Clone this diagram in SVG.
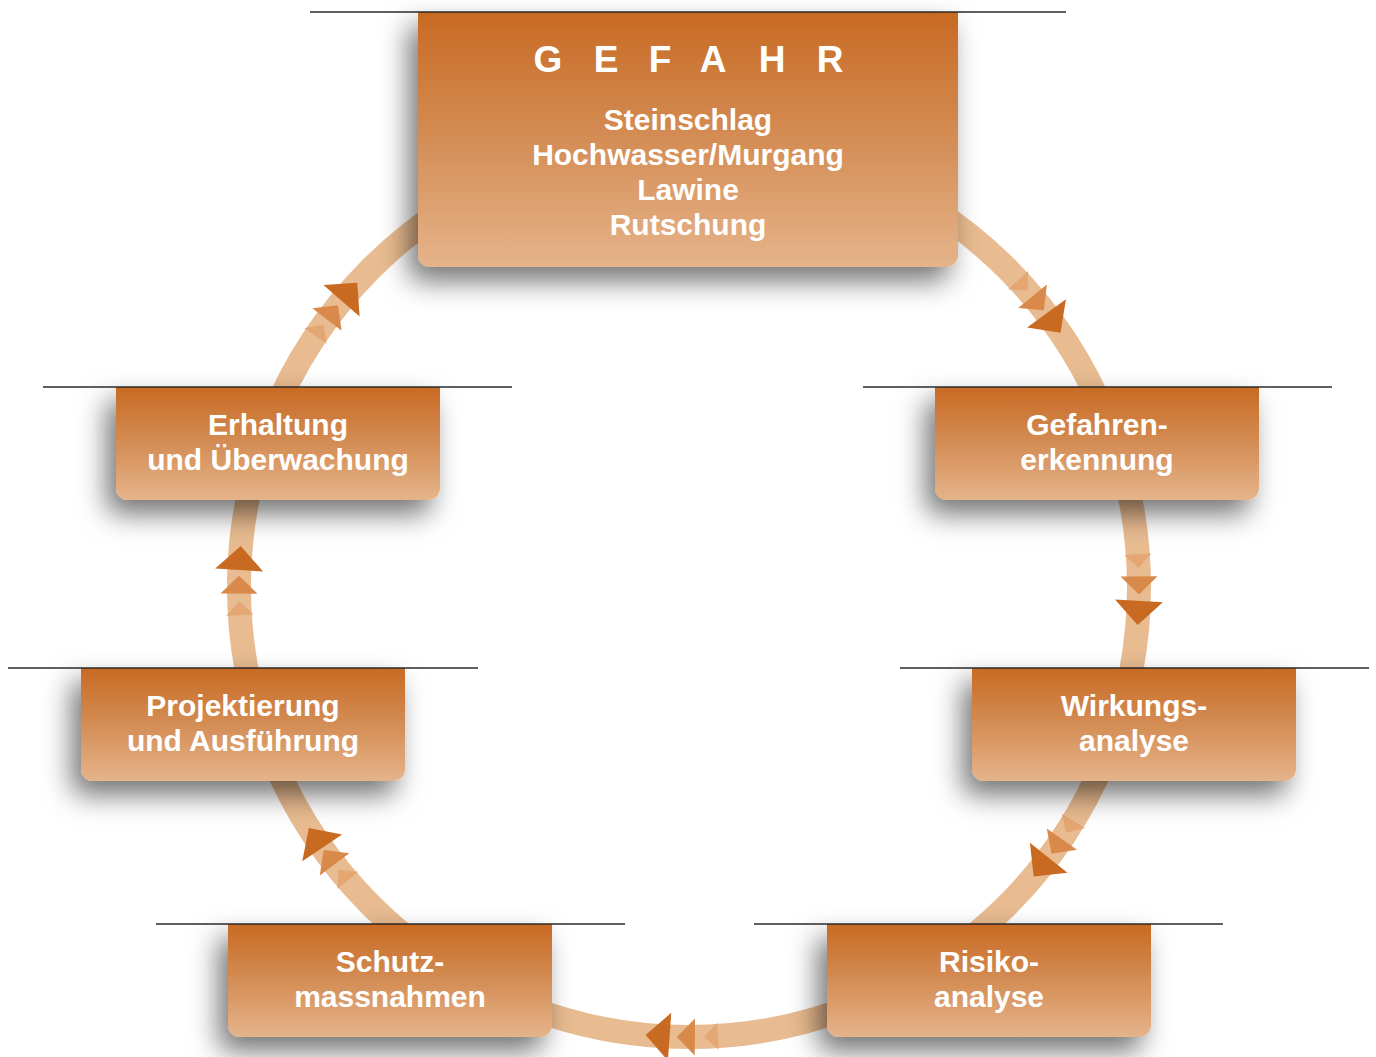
<svg xmlns="http://www.w3.org/2000/svg" xmlns:xlink="http://www.w3.org/1999/xlink" width="1376" height="1057" viewBox="0 0 1376 1057">
<style>
.box{fill:url(#bg);filter:url(#sh)}
.rule{stroke:#2a2a2a;stroke-width:1.4}
.t{font-family:"Liberation Sans",Arial,sans-serif;font-weight:bold;font-size:30px;fill:#fff;text-anchor:middle}
.h{font-size:37px}
</style>
<defs>
<linearGradient id="bg" x1="0" y1="0" x2="0" y2="1">
<stop offset="0" stop-color="#c86a23"/>
<stop offset="0.5" stop-color="#d48d55"/>
<stop offset="1" stop-color="#e5b48b"/>
</linearGradient>
<filter id="sh" x="-30%" y="-40%" width="160%" height="190%">
<feGaussianBlur in="SourceAlpha" stdDeviation="14"/>
<feOffset dx="-9" dy="14" result="b"/>
<feFlood flood-color="#000" flood-opacity="0.55"/>
<feComposite in2="b" operator="in"/>
<feMerge><feMergeNode/><feMergeNode in="SourceGraphic"/></feMerge>
</filter>
<path id="a1" d="M-13.5,-7 L13.5,-7 L0,7 Z" fill="#e4a672"/>
<path id="a2" d="M-18.5,-9 L18.5,-9 L0,9 Z" fill="#d98a4a"/>
<path id="a3" d="M-24,-12 L24,-12 L0,12 Z" fill="#c96a22"/>
</defs>
<rect width="1376" height="1057" fill="#fff"/>
<g id="connectors">
<circle cx="689" cy="587" r="450" fill="none" stroke="#e8bb90" stroke-width="24"/>
<use href="#a1" transform="rotate(-42.1 689 587) translate(1139 587)"/>
<use href="#a2" transform="rotate(-39.1 689 587) translate(1139 587)"/>
<use href="#a3" transform="rotate(-35.9 689 587) translate(1139 587)"/>
<use href="#a1" transform="rotate(-3.3 689 587) translate(1139 587)"/>
<use href="#a2" transform="rotate(-0.2 689 587) translate(1139 587)"/>
<use href="#a3" transform="rotate(3.3 689 587) translate(1139 587)"/>
<use href="#a1" transform="rotate(32.2 689 587) translate(1139 587)"/>
<use href="#a2" transform="rotate(35.2 689 587) translate(1139 587)"/>
<use href="#a3" transform="rotate(38.5 689 587) translate(1139 587)"/>
<use href="#a1" transform="rotate(87.2 689 587) translate(1139 587)"/>
<use href="#a2" transform="rotate(90.4 689 587) translate(1139 587)"/>
<use href="#a3" transform="rotate(94 689 587) translate(1139 587)"/>
<use href="#a1" transform="rotate(140.2 689 587) translate(1139 587)"/>
<use href="#a2" transform="rotate(143.1 689 587) translate(1139 587)"/>
<use href="#a3" transform="rotate(146.1 689 587) translate(1139 587)"/>
<use href="#a1" transform="rotate(177.3 689 587) translate(1139 587)"/>
<use href="#a2" transform="rotate(180.3 689 587) translate(1139 587)"/>
<use href="#a3" transform="rotate(183.7 689 587) translate(1139 587)"/>
<use href="#a1" transform="rotate(214.8 689 587) translate(1139 587)"/>
<use href="#a2" transform="rotate(217.6 689 587) translate(1139 587)"/>
<use href="#a3" transform="rotate(221 689 587) translate(1139 587)"/>
</g>
<g id="gefahr">
<path class="box" d="M418,12 H958 V255 A12,12 0 0 1 946,267 H430 A12,12 0 0 1 418,255 Z"/>
<line class="rule" x1="310" y1="12" x2="1066" y2="12"/>
<text class="t h" y="72"><tspan x="548">G</tspan><tspan x="606">E</tspan><tspan x="660">F</tspan><tspan x="713">A</tspan><tspan x="772">H</tspan><tspan x="830">R</tspan></text>
<text class="t" x="688" y="130">Steinschlag</text>
<text class="t" x="688" y="165">Hochwasser/Murgang</text>
<text class="t" x="688" y="200">Lawine</text>
<text class="t" x="688" y="235">Rutschung</text>
</g>
<g id="gefahrenerkennung">
<path class="box" d="M935,387 H1259 V488 A12,12 0 0 1 1247,500 H947 A12,12 0 0 1 935,488 Z"/>
<line class="rule" x1="863" y1="387" x2="1332" y2="387"/>
<text class="t" x="1097" y="435">Gefahren-</text>
<text class="t" x="1097" y="470">erkennung</text>
</g>
<g id="wirkungsanalyse">
<path class="box" d="M972,668 H1296 V769 A12,12 0 0 1 1284,781 H984 A12,12 0 0 1 972,769 Z"/>
<line class="rule" x1="900" y1="668" x2="1369" y2="668"/>
<text class="t" x="1134" y="716">Wirkungs-</text>
<text class="t" x="1134" y="751">analyse</text>
</g>
<g id="risikoanalyse">
<path class="box" d="M827,924 H1151 V1025 A12,12 0 0 1 1139,1037 H839 A12,12 0 0 1 827,1025 Z"/>
<line class="rule" x1="754" y1="924" x2="1223" y2="924"/>
<text class="t" x="989" y="972">Risiko-</text>
<text class="t" x="989" y="1007">analyse</text>
</g>
<g id="schutzmassnahmen">
<path class="box" d="M228,924 H552 V1025 A12,12 0 0 1 540,1037 H240 A12,12 0 0 1 228,1025 Z"/>
<line class="rule" x1="156" y1="924" x2="625" y2="924"/>
<text class="t" x="390" y="972">Schutz-</text>
<text class="t" x="390" y="1007">massnahmen</text>
</g>
<g id="projektierung">
<path class="box" d="M81,668 H405 V769 A12,12 0 0 1 393,781 H93 A12,12 0 0 1 81,769 Z"/>
<line class="rule" x1="8" y1="668" x2="478" y2="668"/>
<text class="t" x="243" y="716">Projektierung</text>
<text class="t" x="243" y="751">und Ausführung</text>
</g>
<g id="erhaltung">
<path class="box" d="M116,387 H440 V488 A12,12 0 0 1 428,500 H128 A12,12 0 0 1 116,488 Z"/>
<line class="rule" x1="43" y1="387" x2="512" y2="387"/>
<text class="t" x="278" y="435">Erhaltung</text>
<text class="t" x="278" y="470">und Überwachung</text>
</g>
</svg>
